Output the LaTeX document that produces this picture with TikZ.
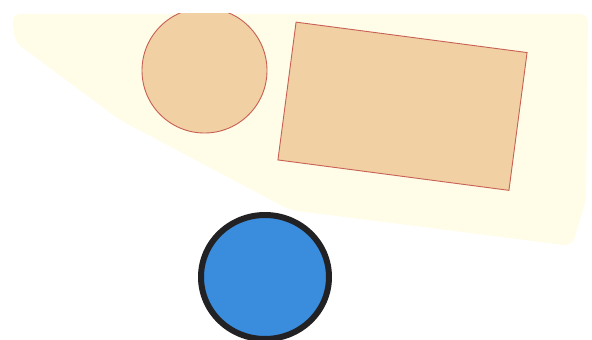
\documentclass[tikz,border=0pt]{standalone}
\usepackage{xcolor}
\usepackage{tikz}
\usetikzlibrary{shapes.geometric}
\definecolor{paper}{RGB}{255,252,232}
\definecolor{tanfill}{RGB}{241,208,164}
\definecolor{tanedge}{RGB}{200,96,84}
\definecolor{discblue}{RGB}{58,140,220}
\definecolor{discrim}{RGB}{34,34,36}
\begin{document}
\begin{tikzpicture}[
  x=1pt,y=-1pt,
  tanblob/.style={draw=tanedge,fill=tanfill,line width=0.9pt,inner sep=0pt,outer sep=0pt},
  bluedisc/.style={ellipse,draw=discrim,fill=discblue,line width=6pt,inner sep=0pt,outer sep=0pt}
]
  \useasboundingbox (0,0) rectangle (592,340);
  \fill[paper,rounded corners=8pt] (12,14) -- (588,14) -- (586,200) -- (572,246)
    -- (290,210) -- (120,120) -- (15,42) -- cycle;

  \begin{scope}
    \clip (0,13) rectangle (592,340);
    \node[tanblob,circle,minimum size=125pt] (disc) at (204.5,70.5) {};
  \end{scope}
  \node[tanblob,rectangle,minimum width=233pt,minimum height=139pt,rotate=-7.5] (slab) at (402.5,106.25) {};

  \node[bluedisc,minimum width=128pt,minimum height=124pt] (ball) at (265,277) {};
\end{tikzpicture}
\end{document}
